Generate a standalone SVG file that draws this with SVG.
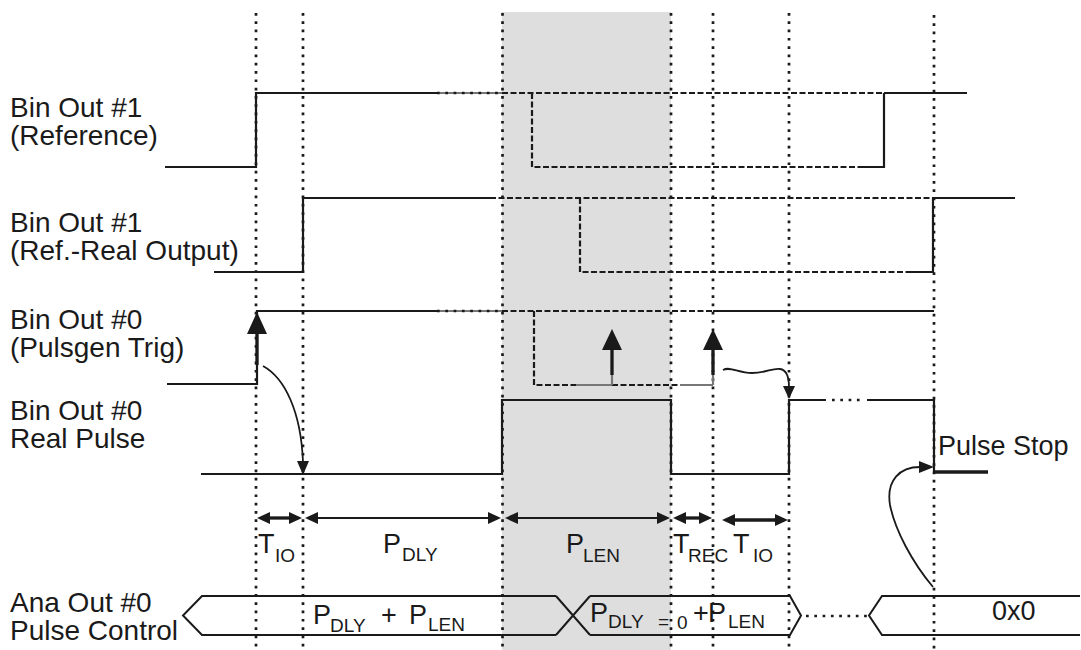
<svg xmlns="http://www.w3.org/2000/svg" width="1081" height="650" viewBox="0 0 1081 650">
<style>
text { font-family: "Liberation Sans", Arial, sans-serif; fill: #1a1a1a; }
.lbl { font-size: 28px; }
.big { font-size: 27px; }
.sub { font-size: 19px; }
.sig { fill: none; stroke: #1a1a1a; stroke-width: 2.2; }
.dash { fill: none; stroke: #1a1a1a; stroke-width: 2.2; stroke-dasharray: 6 2.5; }
.dot { fill: none; stroke: #1a1a1a; stroke-width: 2.7; stroke-dasharray: 2.7 5.6; }
.bus { fill: none; stroke: #1a1a1a; stroke-width: 2; }
.thin { fill: none; stroke: #1a1a1a; stroke-width: 1.8; }
.thick { fill: none; stroke: #1a1a1a; stroke-width: 3.3; }
.curve { fill: none; stroke: #1a1a1a; stroke-width: 1.8; }
.head { fill: #1a1a1a; stroke: none; }
.grey { fill: none; stroke: #777777; stroke-width: 2.2; }
</style>
<rect x="0" y="0" width="1081" height="650" fill="#ffffff"/>
<rect id="highlight" x="502" y="12" width="169" height="638" fill="#dedede"/>

<g id="timing-markers">
  <line class="dot" x1="256" y1="13" x2="256" y2="650"/>
  <line class="dot" x1="303" y1="13" x2="303" y2="650"/>
  <line class="dot" x1="502.5" y1="13" x2="502.5" y2="650"/>
  <line class="dot" x1="671" y1="13" x2="671" y2="650"/>
  <line class="dot" x1="713" y1="13" x2="713" y2="650"/>
  <line class="dot" x1="789" y1="13" x2="789" y2="650"/>
  <line class="dot" x1="934" y1="15" x2="934" y2="650"/>
</g>

<g id="labels">
  <text class="lbl" x="10" y="117">Bin Out #1</text>
  <text class="lbl" x="10" y="145">(Reference)</text>
  <text class="lbl" x="10" y="232">Bin Out #1</text>
  <text class="lbl" x="10" y="260">(Ref.-Real Output)</text>
  <text class="lbl" x="10" y="329">Bin Out #0</text>
  <text class="lbl" x="10" y="357">(Pulsgen Trig)</text>
  <text class="lbl" x="10" y="420">Bin Out #0</text>
  <text class="lbl" x="10" y="448">Real Pulse</text>
  <text class="lbl" x="10" y="612">Ana Out #0</text>
  <text class="lbl" x="10" y="640">Pulse Control</text>
</g>

<g id="bin-out-1-reference">
  <path class="sig" d="M165,167 L256,167 L256,93 L437,93"/>
  <path class="grey" d="M437,93 L502,93"/>
  <path class="dot" d="M437,93 L502,93"/>
  <path class="dash" d="M502,93 L884,93"/>
  <path class="sig" d="M884,93 L967,93"/>
  <path class="dash" d="M532,93 L532,167 L862,167"/>
  <path class="sig" d="M862,167 L884,167 L884,93"/>
</g>

<g id="bin-out-1-real">
  <path class="sig" d="M214,272 L303,272 L303,198 L490,198"/>
  <path class="dash" d="M490,198 L934,198"/>
  <path class="sig" d="M934,198 L1015,198"/>
  <path class="dash" d="M580,198 L580,272 L908,272"/>
  <path class="sig" d="M908,272 L933,272 L933,198"/>
</g>

<g id="bin-out-0-trig">
  <path class="sig" d="M167,384 L257,384 L257,311 L437,311"/>
  <path class="grey" d="M437,311 L502,311"/>
  <path class="dot" d="M437,311 L502,311"/>
  <path class="dash" d="M502,311 L713,311"/>
  <path class="sig" d="M713,311 L934,311"/>
  <path class="dash" d="M534,311 L534,385 L577,385"/>
  <path class="grey" d="M577,385 L612,385"/>
  <path class="dash" d="M612,385 L680,385"/>
  <path class="grey" d="M680,385 L713,385"/>
  <line class="thick" x1="257" y1="365" x2="257" y2="330"/>
  <polygon class="head" points="257,312 247,334 267,334"/>
  <line class="grey" x1="612" y1="385" x2="612" y2="370"/>
  <line class="thick" x1="612" y1="375" x2="612" y2="345"/>
  <polygon class="head" points="612,329 602,350 622,350"/>
  <line class="grey" x1="713" y1="385" x2="713" y2="370"/>
  <line class="thick" x1="713" y1="375" x2="713" y2="345"/>
  <polygon class="head" points="713,329 703,350 723,350"/>
</g>

<g id="bin-out-0-pulse">
  <path class="sig" d="M201,474 L502,474 L502,400 L671,400 L671,474 L789,474 L789,400 L826,400"/>
  <path class="dot" d="M832,400 L864,400"/>
  <path class="sig" d="M867,400 L934,400 L934,472"/>
  <path class="thick" d="M934,472 L988,472"/>
  <text class="big" x="938" y="455">Pulse Stop</text>
</g>

<g id="connectors">
  <path class="curve" d="M263,366 C285,378 301,412 303,462"/>
  <polygon class="head" points="303,475 297,461 309,461"/>
  <path class="curve" d="M723,370 C730,366 738,373 752,373 C766,373 772,368 780,369 C787,370 789,378 789,387"/>
  <polygon class="head" points="789,399 783,386 795,386"/>
  <path class="curve" d="M933,587 C912,562 895,530 890,505 C886,480 900,467 920,467"/>
  <polygon class="head" points="934,467 919,461 919,473"/>
</g>

<g id="durations">
  <line class="thick" x1="268" y1="518" x2="291" y2="518"/>
  <polygon class="head" points="257,518 270,512 270,524"/>
  <polygon class="head" points="302,518 289,512 289,524"/>
  <line class="thin" x1="316" y1="518" x2="490" y2="518"/>
  <polygon class="head" points="305,518 318,512 318,524"/>
  <polygon class="head" points="501,518 488,512 488,524"/>
  <line class="thin" x1="516" y1="518" x2="659" y2="518"/>
  <polygon class="head" points="505,518 518,512 518,524"/>
  <polygon class="head" points="670,518 657,512 657,524"/>
  <line class="thick" x1="684" y1="518" x2="701" y2="518"/>
  <polygon class="head" points="673,518 686,512 686,524"/>
  <polygon class="head" points="712,518 699,512 699,524"/>
  <line class="thick" x1="733" y1="520" x2="777" y2="520"/>
  <polygon class="head" points="722,520 735,514 735,526"/>
  <polygon class="head" points="788,520 775,514 775,526"/>
  <text class="big" x="258" y="553">T</text><text class="sub" x="275" y="562">IO</text>
  <text class="big" x="383" y="553">P</text><text class="sub" x="402" y="561">DLY</text>
  <text class="big" x="566" y="553">P</text><text class="sub" x="583" y="562">LEN</text>
  <text class="big" x="673" y="553">T</text><text class="sub" x="688" y="562">REC</text>
  <text class="big" x="733" y="553">T</text><text class="sub" x="753" y="562">IO</text>
</g>

<g id="ana-out-0">
  <path class="bus" d="M556,596 L202,596 L183,615.5 L202,635 L556,635"/>
  <path class="bus" d="M556,596 L590,635 M556,635 L590,596"/>
  <path class="bus" d="M590,596 L790,596 L801,615.5 L790,635 L590,635"/>
  <path class="dot" d="M806,616 L868,616"/>
  <path class="bus" d="M1080,596 L882,596 L869,615.5 L882,635 L1080,635"/>
  <text class="big" x="313" y="624">P</text><text class="sub" x="330" y="632">DLY</text>
  <text class="big" x="381" y="624">+</text>
  <text class="big" x="409" y="624">P</text><text class="sub" x="428" y="631">LEN</text>
  <text class="big" x="590" y="622">P</text><text class="sub" x="608" y="628">DLY</text>
  <text class="sub" x="658" y="628">=</text><text class="sub" x="677" y="629">0</text>
  <text class="big" x="693" y="622">+</text>
  <text class="big" x="708" y="622">P</text><text class="sub" x="728" y="628">LEN</text>
  <text class="big" x="992" y="620">0x0</text>
</g>
</svg>
